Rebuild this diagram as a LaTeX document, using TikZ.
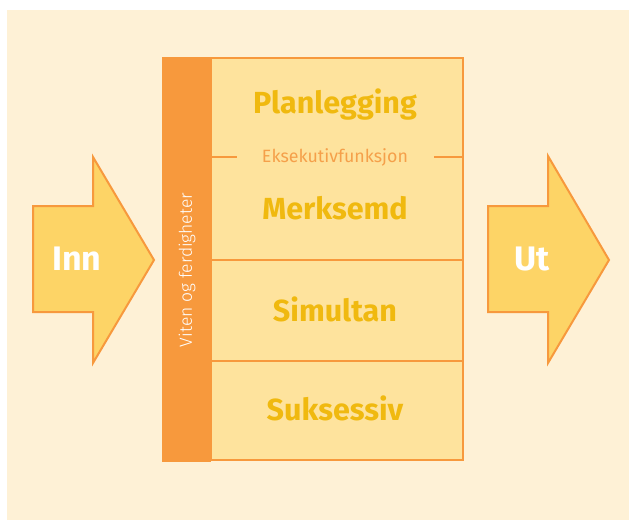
\documentclass[tikz,border=0pt]{standalone}
\usepackage{fontspec}
\setmainfont{Fira Sans}
\newfontfamily\lightfont{Fira Sans Light}
\definecolor{bgc}{HTML}{FEF1D6}
\definecolor{boxc}{HTML}{FEE39D}
\definecolor{orc}{HTML}{F7993D}
\definecolor{arrc}{HTML}{FDD466}
\definecolor{txtc}{HTML}{F0B90F}
\definecolor{exc}{HTML}{F5A04A}
\begin{document}
\begin{tikzpicture}[x=1pt,y=-1pt,
  cell/.style={draw=orc,line width=2pt,fill=boxc},
  bigarrow/.style={draw=orc,line width=2pt,fill=arrc,line join=miter},
  lbl/.style={font=\bfseries\fontsize{30.5}{34}\selectfont,text=txtc},
  arrlbl/.style={font=\bfseries\fontsize{34}{38}\selectfont,text=white}]
\useasboundingbox (0,0) rectangle (629,522);
\fill[white] (0,0) rectangle (629,522);
\fill[bgc] (7,10) rectangle (629,520);
% arrows
\draw[bigarrow] (33,206) -- (93,206) -- (93,157) -- (154,260) -- (93,363) -- (93,312) -- (33,312) -- cycle;
\draw[bigarrow] (488,206) -- (548,206) -- (548,156) -- (609,260) -- (548,363) -- (548,312) -- (488,312) -- cycle;
\node[arrlbl] (inn) at (77,259) {Inn};
\node[arrlbl] (ut) at (532,259) {Ut};
% box cells
\draw[cell] (211,58) rectangle (463,260);
\draw[cell] (211,260) rectangle (463,361);
\draw[cell] (211,361) rectangle (463,460);
% orange bar
\fill[orc] (162,57) rectangle (211,462);
\node[rotate=90,text=white,font=\lightfont\fontsize{17.5}{20}\selectfont] (viten) at (187,270) {Viten og ferdigheter};
% texts
\node[lbl] (plan) at (335,105) {Planlegging};
\node[text=exc,font=\fontsize{17.8}{20}\selectfont] (eks) at (335,157) {Eksekutivfunksjon};
\coordinate (l1) at (211,157);
\coordinate (r1) at (463,157);
\draw[orc,line width=2pt] (l1) -- (237,157);
\draw[orc,line width=2pt] (434,157) -- (r1);
\node[lbl] (merk) at (335,208) {Merksemd};
\node[lbl] (sim) at (335,309) {Simultan};
\node[lbl] (suk) at (335,408) {Suksessiv};
\end{tikzpicture}
\end{document}
